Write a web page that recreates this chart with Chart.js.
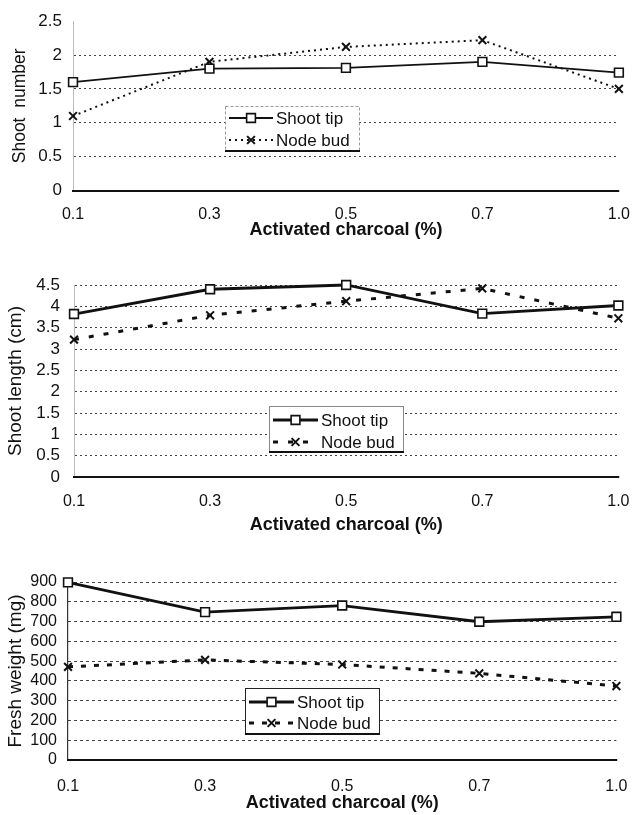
<!DOCTYPE html>
<html>
<head>
<meta charset="utf-8">
<script src="https://cdn.jsdelivr.net/npm/chart.js@4"></script>
<style>
  html, body { margin: 0; padding: 0; background: #fff; }
  body { width: 644px; height: 815px; position: relative; overflow: hidden; }
  canvas { position: absolute; left: 0; }
</style>
</head>
<body>
<canvas id="chartNumber" width="644" height="245" style="top:0px"></canvas>
<canvas id="chartLength" width="644" height="290" style="top:250px"></canvas>
<canvas id="chartWeight" width="644" height="275" style="top:540px"></canvas>
<script>
    // 数据
    const concentrations = ['0.1', '0.3', '0.5', '0.7', '1.0'];
    const seriesNames = ['Shoot tip', 'Node bud'];

    const shootNumberTip = [1.6, 1.8, 1.81, 1.9, 1.74];
    const shootNumberNode = [1.1, 1.9, 2.12, 2.22, 1.5];

    const shootLengthTip = [3.82, 4.4, 4.5, 3.83, 4.02];
    const shootLengthNode = [3.22, 3.79, 4.12, 4.42, 3.72];

    const freshWeightTip = [898, 748, 781, 699, 724];
    const freshWeightNode = [471, 506, 483, 438, 374];

    const FONT = '"Liberation Sans", Arial, sans-serif';

    // 画图例标记
    function drawMarker(ctx, style, x, y, r, lw) {
        const s = Math.SQRT1_2 * r;
        ctx.save();
        ctx.lineWidth = lw;
        ctx.strokeStyle = '#111';
        ctx.fillStyle = '#fff';
        ctx.beginPath();
        if (style === 'rect') {
            ctx.rect(x - s, y - s, 2 * s, 2 * s);
            ctx.fill();
            ctx.stroke();
        } else {
            ctx.moveTo(x - s, y - s); ctx.lineTo(x + s, y + s);
            ctx.moveTo(x - s, y + s); ctx.lineTo(x + s, y - s);
            ctx.stroke();
        }
        ctx.restore();
    }

    // 图内带框的图例
    const boxLegend = {
        id: 'boxLegend',
        afterDraw(chart, args, opts) {
            const ctx = chart.ctx;
            const { left, top, width, height } = opts;
            ctx.save();
            ctx.fillStyle = '#fff';
            ctx.fillRect(left, top, width, height);
            ctx.lineWidth = 1;
            ctx.strokeStyle = opts.borderColor;
            ctx.setLineDash(opts.borderDash || []);
            ctx.strokeRect(left + 0.5, top + 0.5, width, height);
            ctx.setLineDash([]);
            ctx.strokeStyle = '#111';
            ctx.lineWidth = 2;
            ctx.beginPath();
            ctx.moveTo(left, top + height);
            ctx.lineTo(left + width + 1, top + height);
            ctx.stroke();

            chart.data.datasets.forEach((ds, i) => {
                const y = top + opts.rowTop + i * opts.rowGap;
                const x0 = left + 4;
                const x1 = x0 + opts.sampleLen;
                ctx.strokeStyle = ds.borderColor;
                ctx.lineWidth = ds.borderWidth;
                ctx.setLineDash(ds.borderDash || []);
                ctx.beginPath();
                ctx.moveTo(x0, y);
                ctx.lineTo(x1, y);
                ctx.stroke();
                ctx.setLineDash([]);
                drawMarker(ctx, ds.pointStyle, (x0 + x1) / 2, y, ds.pointRadius, ds.pointBorderWidth);
                ctx.fillStyle = '#111';
                ctx.font = '17px ' + FONT;
                ctx.textBaseline = 'middle';
                ctx.textAlign = 'left';
                ctx.fillText(ds.label, x1 + 3, y + 1);
            });
            ctx.restore();
        }
    };

    function makePanel(id, p) {
        const ctx = document.getElementById(id).getContext('2d');
        return new Chart(ctx, {
            type: 'line',
            data: {
                labels: concentrations,
                datasets: [{
                    label: seriesNames[0],
                    data: p.tip,
                    borderColor: '#111',
                    borderWidth: p.tipWidth,
                    pointStyle: 'rect',
                    pointRadius: 6.2,
                    pointBorderWidth: 1.6,
                    pointBackgroundColor: '#fff',
                    pointBorderColor: '#111',
                    tension: 0,
                    clip: false
                }, {
                    label: seriesNames[1],
                    data: p.node,
                    borderColor: '#111',
                    borderWidth: p.nodeWidth,
                    borderDash: p.nodeDash,
                    pointStyle: 'crossRot',
                    pointRadius: 5.5,
                    pointBorderWidth: 2,
                    pointBorderColor: '#111',
                    tension: 0,
                    clip: false
                }]
            },
            options: {
                responsive: false,
                animation: false,
                devicePixelRatio: 1,
                layout: { padding: { top: p.padTop, right: p.padRight, left: 0, bottom: 0 } },
                plugins: {
                    legend: { display: false },
                    tooltip: { enabled: false },
                    boxLegend: p.legend
                },
                scales: {
                    x: {
                        type: 'category',
                        offset: false,
                        // 实线左轴（仅第一个刻度）
                        grid: {
                            display: p.solidLeftAxis,
                            drawTicks: false,
                            color: c => c.index === 0 ? '#333' : 'rgba(0,0,0,0)',
                            lineWidth: 1.2
                        },
                        border: { display: true, color: '#111', width: 2, z: 1 },
                        ticks: {
                            padding: p.xTickPad,
                            color: '#111',
                            maxRotation: 0,
                            autoSkip: false,
                            font: { family: FONT, size: 16 }
                        },
                        title: {
                            display: true,
                            text: 'Activated charcoal (%)',
                            color: '#111',
                            font: { family: FONT, size: 18, weight: 'bold' },
                            padding: { top: 0, bottom: p.xTitlePad }
                        },
                        afterFit: s => { s.height = p.xHeight; }
                    },
                    y: {
                        min: 0,
                        max: p.max,
                        ticks: {
                            stepSize: p.step,
                            padding: p.yTickPad,
                            color: '#111',
                            autoSkip: false,
                            font: { family: FONT, size: p.yTickSize },
                            callback: v => String(v)
                        },
                        grid: {
                            color: c => (c.tick && (c.tick.value === 0 || (p.noTopGrid && c.tick.value === p.max))) ? 'rgba(0,0,0,0)' : '#444',
                            lineWidth: 1,
                            drawTicks: false
                        },
                        // v4 里网格虚线取自 border.dash
                        border: { display: !p.solidLeftAxis, color: '#bbb', width: 1, dash: p.gridDash },
                        title: {
                            display: true,
                            text: p.yTitle,
                            color: '#111',
                            font: { family: FONT, size: p.yTitleSize },
                            padding: { top: p.yTitlePad, bottom: 0 }
                        },
                        afterFit: s => { s.width = p.yWidth; }
                    }
                }
            },
            plugins: [boxLegend]
        });
    }

    window.addEventListener('DOMContentLoaded', function() {
        // 芽数
        makePanel('chartNumber', {
            tip: shootNumberTip, node: shootNumberNode,
            tipWidth: 1.8, nodeWidth: 2, nodeDash: [2, 4],
            max: 2.5, step: 0.5, noTopGrid: true, solidLeftAxis: false,
            yTitle: 'Shoot  number', yTitleSize: 17.5, yTitlePad: 10,
            yTickSize: 17,
            padTop: 12.5, padRight: 21, yWidth: 73, xHeight: 54.5,
            xTickPad: 14, xTitlePad: 4, yTickPad: 11,
            gridDash: [2, 3],
            legend: { left: 225, top: 106, width: 134, height: 45, rowTop: 12, rowGap: 22, sampleLen: 44, borderColor: '#999', borderDash: [3, 2] }
        });
        // 芽长
        makePanel('chartLength', {
            tip: shootLengthTip, node: shootLengthNode,
            tipWidth: 2.8, nodeWidth: 3, nodeDash: [5, 10],
            max: 4.5, step: 0.5, noTopGrid: false, solidLeftAxis: false,
            yTitle: 'Shoot length (cm)', yTitleSize: 19, yTitlePad: 4,
            yTickSize: 17,
            padTop: 35, padRight: 25, yWidth: 74, xHeight: 63,
            xTickPad: 14.5, xTitlePad: 4, yTickPad: 14,
            gridDash: [2, 3],
            legend: { left: 269, top: 156, width: 134, height: 46, rowTop: 14, rowGap: 22, sampleLen: 45, borderColor: '#888', borderDash: [] }
        });
        // 鲜重
        makePanel('chartWeight', {
            tip: freshWeightTip, node: freshWeightNode,
            tipWidth: 2.8, nodeWidth: 3, nodeDash: [5, 8],
            max: 900, step: 100, noTopGrid: false, solidLeftAxis: true,
            yTitle: 'Fresh weight (mg)', yTitleSize: 19, yTitlePad: 4,
            yTickSize: 16,
            padTop: 42, padRight: 14, yWidth: 68, xHeight: 55,
            xTickPad: 16.5, xTitlePad: 1.5, yTickPad: 11,
            gridDash: [3, 3],
            legend: { left: 245, top: 148, width: 134, height: 46, rowTop: 14, rowGap: 21, sampleLen: 45, borderColor: '#222', borderDash: [] }
        });
    });
</script>
</body>
</html>
